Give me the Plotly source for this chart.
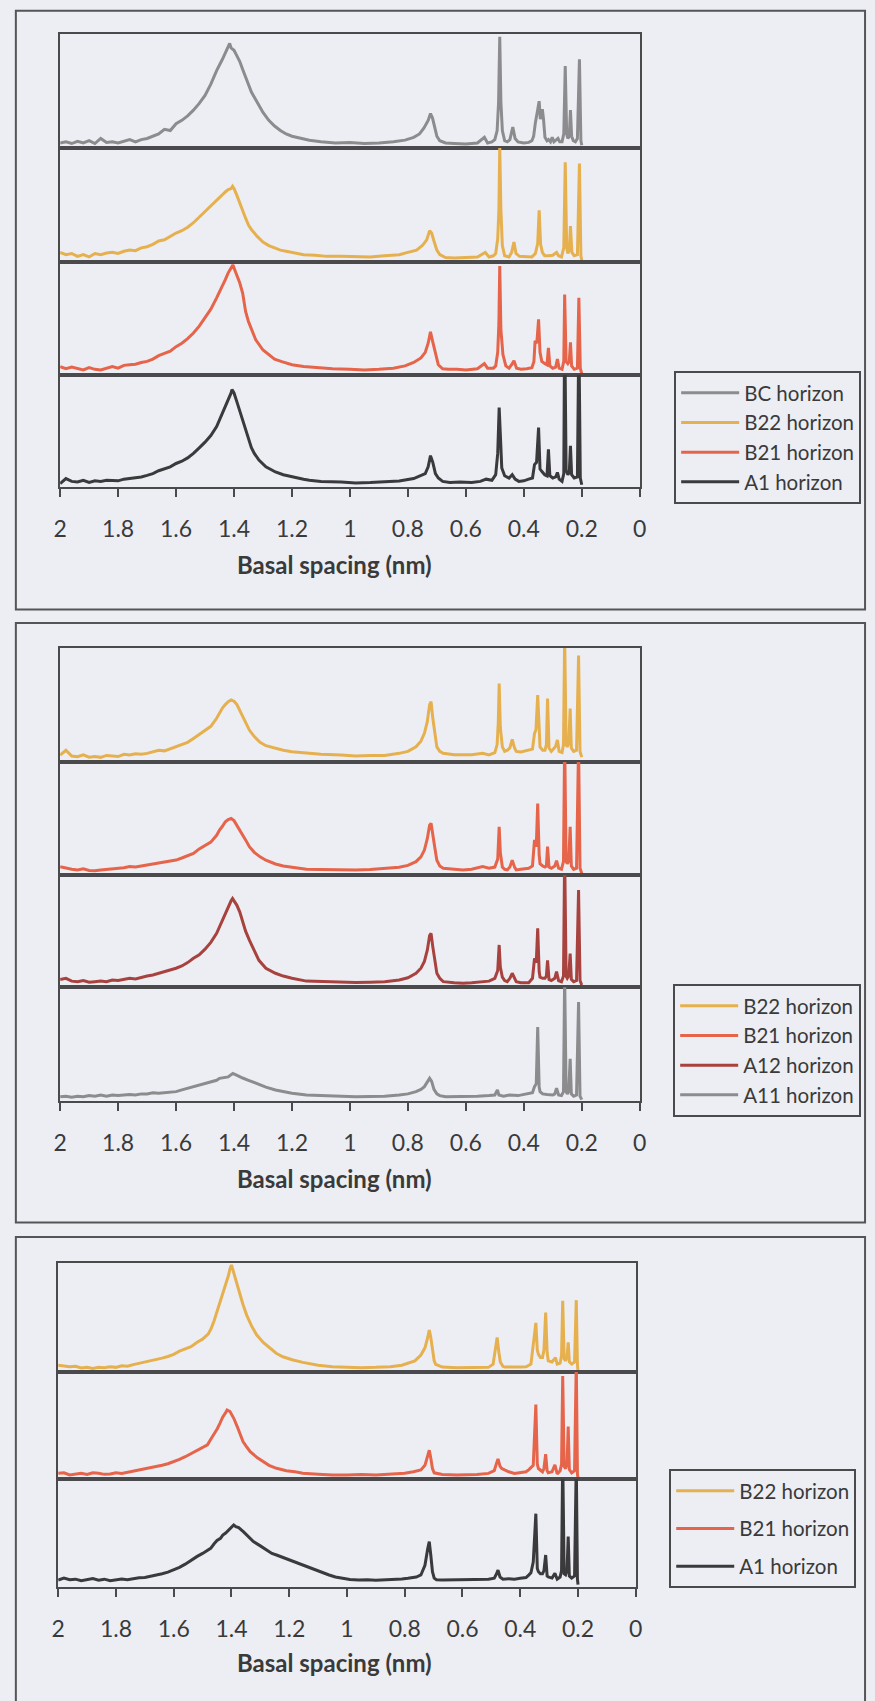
import plotly.graph_objects as go

W, H = 875, 1701

# ---------------- data: basal spacing (nm) and relative intensity (% of band) ----------------
# Panel 1
p1_bc_d = [2.00,1.98,1.96,1.94,1.92,1.90,1.88,1.86,1.84,1.82,1.80,1.78,1.76,1.74,1.72,1.70,1.68,1.66,1.64,1.62,1.60,1.58,1.56,1.54,1.52,1.50,1.48,1.46,1.44,1.43,1.42,1.415,1.41,1.40,1.39,1.38,1.37,1.36,1.35,1.34,1.32,1.30,1.28,1.26,1.24,1.22,1.20,1.17,1.14,1.10,1.05,1.00,0.95,0.90,0.85,0.81,0.78,0.76,0.745,0.73,0.722,0.715,0.708,0.70,0.69,0.67,
           0.64,0.60,0.56,0.536,0.525,0.51,0.50,0.492,0.487,0.483,0.479,0.474,0.466,0.457,0.448,0.438,0.43,0.42,0.40,0.383,0.372,0.366,0.36,0.356,0.351,0.347,0.343,0.34,0.336,0.332,0.327,0.32,0.315,0.308,0.302,0.296,0.29,0.282,0.276,0.268,0.262,0.257,0.252,0.248,0.243,0.239,0.235,0.229,0.222,0.215,0.208,0.203,0.20]
p1_bc_i = [4,5,3.5,5.5,4,6,3.5,8,4.5,5,4,5.5,7,5,7,8,10,12,16,15,21,24,28,33,39,46,56,68,78,84,89,92,88,86,81,76,69,62,55,49,40,31,24,19,15,12,10,8,6.5,5,4,4.5,3.5,4,5,6.5,9,12,17,24,30,26,18,10,6,4,
           3.5,3,4,9,4,5,7,15,40,98,40,15,6,5,7,18,8,5,4,4.5,6,10,22,30,35,41,25,30,34,25,9,6,7,5,9,5,6,8,5,5,12,72,12,8,10,33,10,6,5,8,78,6,2]

p1_b22_d = [2.00,1.98,1.96,1.94,1.92,1.90,1.88,1.86,1.84,1.82,1.80,1.78,1.76,1.74,1.72,1.70,1.68,1.66,1.64,1.62,1.60,1.58,1.56,1.54,1.52,1.50,1.48,1.46,1.44,1.43,1.42,1.41,1.405,1.40,1.39,1.38,1.37,1.36,1.35,1.34,1.32,1.30,1.28,1.26,1.24,1.22,1.20,1.16,1.12,1.08,1.03,0.98,0.93,0.88,0.83,0.80,0.77,0.75,0.735,0.725,0.718,0.71,0.70,0.69,0.67,
            0.64,0.60,0.56,0.533,0.52,0.505,0.497,0.49,0.486,0.483,0.479,0.474,0.466,0.451,0.442,0.434,0.427,0.415,0.39,0.372,0.36,0.352,0.347,0.342,0.336,0.328,0.315,0.30,0.287,0.28,0.27,0.262,0.257,0.252,0.248,0.243,0.239,0.234,0.226,0.215,0.208,0.203,0.20]
p1_b22_i = [8,6,7,4.5,6,4,7,6,7.5,8,7,9,10,9.5,12,13,15,18,19,22,25,27,30,34,39,44,49,54,59,61,63,64,66,64,58,51,44,38,32,28,22,17,14,12,10,9,8,6,5.5,4.5,4.5,4,4,5,6,8,10,14,19,27,25,18,10,6,3.5,
            3,3.5,4,8,4,5,7,20,45,100,45,14,5,4,8,17,7,4.5,4,4,7,16,45,15,8,5,5,5.5,8,5,4,12,87,12,7,10,31,8,5,6,86,5,1]

p1_b21_d = [2.00,1.98,1.96,1.94,1.92,1.90,1.88,1.86,1.84,1.82,1.80,1.78,1.76,1.74,1.72,1.70,1.68,1.66,1.64,1.62,1.60,1.58,1.56,1.54,1.52,1.50,1.48,1.46,1.44,1.43,1.42,1.41,1.404,1.395,1.38,1.37,1.36,1.35,1.34,1.325,1.30,1.28,1.26,1.235,1.20,1.16,1.12,1.06,1.00,0.95,0.90,0.85,0.81,0.78,0.755,0.74,0.73,0.722,0.715,0.705,0.695,0.68,0.66,
            0.63,0.60,0.56,0.536,0.525,0.505,0.497,0.49,0.486,0.483,0.479,0.472,0.462,0.451,0.442,0.434,0.425,0.41,0.39,0.372,0.365,0.361,0.355,0.349,0.344,0.338,0.327,0.32,0.315,0.31,0.30,0.29,0.284,0.278,0.268,0.262,0.259,0.254,0.248,0.243,0.239,0.235,0.226,0.215,0.21,0.205,0.20]
p1_b21_i = [7.4,5.5,7,6,4.5,6.5,5,4.5,6,7.4,6,8.5,9,9.5,11,12,14,17,19,21,25,28,32,37,43,50,58,68,78,84,90,94,97,91,81,72,56,47,40,31,22,17.6,14,11.8,9,7.5,6.5,5.5,5,4.5,5,6,8,11,15,20,28,38,30,18,9,5.5,5,
            5,4.5,5.5,10,6,6,8,20,45,96,40,18,8,6,9,12.6,6,5,5.5,6.5,12,30,28,49,20,12,10,9,24,8,6,7,14,6,5,12,71,12,10,12,28.7,8,5,6,68,6,1]

p1_a1_d = [2.00,1.98,1.96,1.94,1.92,1.90,1.88,1.86,1.84,1.82,1.80,1.78,1.76,1.74,1.72,1.70,1.68,1.66,1.64,1.62,1.60,1.58,1.56,1.54,1.52,1.50,1.48,1.46,1.45,1.44,1.43,1.42,1.41,1.407,1.40,1.39,1.38,1.37,1.36,1.35,1.34,1.33,1.314,1.29,1.27,1.257,1.23,1.20,1.16,1.14,1.10,1.03,0.98,0.93,0.88,0.83,0.78,0.755,0.74,0.73,0.722,0.714,0.705,0.695,0.68,0.655,
           0.62,0.58,0.55,0.53,0.51,0.497,0.49,0.485,0.481,0.476,0.466,0.451,0.44,0.43,0.417,0.40,0.383,0.37,0.363,0.356,0.349,0.344,0.338,0.328,0.32,0.315,0.31,0.30,0.29,0.284,0.278,0.268,0.262,0.259,0.254,0.248,0.243,0.239,0.235,0.226,0.215,0.21,0.205,0.20]
p1_a1_i = [3,7.5,5,4.5,6,4,5.5,5,6,6,5.5,7,7.5,8,9,10.4,12,14.5,16,18,21,23,26,30,35,40,46,54,60,66,71,78,84,87,84,76,68,60,50,42,35,30,24,18,15,13.4,11,9,7,6,5,4.5,3.6,4,4.5,5.4,7.5,10,12,18,28,22,12,8,5,4,
           4.5,4,5,7,6,11,30,71,40,17,10,8,11,7,5,5.5,7,8,20,22,53,16,14,11,10,33.7,10,8,9,13,7,5,12,150,15,11,13,36.7,11,8,9,140,8,2]

# Panel 2
p2_b22_d = [2.00,1.98,1.96,1.94,1.92,1.90,1.88,1.86,1.84,1.82,1.80,1.78,1.76,1.74,1.72,1.70,1.68,1.66,1.64,1.62,1.60,1.58,1.56,1.54,1.52,1.50,1.48,1.46,1.45,1.44,1.43,1.42,1.41,1.40,1.39,1.38,1.37,1.36,1.347,1.33,1.31,1.29,1.257,1.23,1.20,1.15,1.10,1.03,0.98,0.93,0.88,0.83,0.80,0.772,0.755,0.743,0.733,0.725,0.72,0.714,0.707,0.70,0.69,0.678,
            0.64,0.61,0.58,0.542,0.52,0.50,0.492,0.488,0.485,0.481,0.474,0.466,0.457,0.448,0.44,0.432,0.426,0.41,0.383,0.37,0.363,0.358,0.352,0.347,0.344,0.335,0.327,0.322,0.318,0.313,0.305,0.291,0.284,0.278,0.268,0.263,0.259,0.254,0.25,0.245,0.24,0.236,0.228,0.218,0.211,0.206,0.20]
p2_b22_i = [5.8,10,5,4.4,6,4,4.5,3.8,5.5,5,4.5,6.5,5.8,7,6.5,7.3,8.5,10,9.5,11.5,13.7,15,17,20.4,24,28,31,38,43,47,50,52.5,54,53,50,45,40,34,27.7,22,17,14,11.7,10,8.7,7.3,6.5,5.8,5,5.5,5.5,7.3,9,13,18,24.8,35,50,52.5,38,25,13,9,7.3,
            6,5.8,6,7.3,6,8,15,35,68.5,30,13,9,10,12,19.5,12,9,8.5,10,11,24.8,28,58.3,20,13,10,10,15,55.4,12,9,13,19,9,8,15,110,15,13,16,46.6,12,9,10,93,9,4]

p2_b21_d = [2.00,1.98,1.96,1.94,1.92,1.90,1.88,1.86,1.84,1.82,1.80,1.78,1.76,1.74,1.72,1.70,1.68,1.66,1.64,1.62,1.60,1.58,1.56,1.54,1.52,1.50,1.48,1.46,1.45,1.44,1.43,1.42,1.41,1.40,1.39,1.38,1.37,1.36,1.347,1.33,1.31,1.29,1.257,1.23,1.20,1.15,1.10,1.03,0.98,0.93,0.88,0.83,0.80,0.772,0.755,0.743,0.733,0.725,0.72,0.714,0.707,0.70,0.69,0.678,
            0.64,0.61,0.58,0.542,0.52,0.50,0.49,0.485,0.481,0.474,0.466,0.457,0.448,0.44,0.432,0.426,0.41,0.383,0.37,0.363,0.357,0.352,0.347,0.344,0.335,0.327,0.322,0.318,0.313,0.305,0.293,0.287,0.28,0.27,0.263,0.259,0.254,0.25,0.245,0.24,0.236,0.228,0.218,0.211,0.206,0.20]
p2_b21_i = [7.4,6,5,4.4,5.5,4,3.8,4.5,5,5,6,6.5,7.4,7,8,8.8,9.5,10.3,11,12,13.2,15,17,19,23,26,29,35,39.7,43,47,49,50,48,44,40,35,31,25,20,16,13,9.7,8,6.8,5,4.8,4.4,4.4,4.8,5.5,6.8,8.5,11.8,16,22,32,44,45.6,34,24,13,8,6,
            5,4.4,5,7.4,6,7,14,42.6,20,7,5,4.5,7,13,7,4.5,5,6,8,31,25,63,18,10,8,7,8,25,7,6,8,12.6,6,5,12,120,12,10,12,42.6,8,5,6,115,6,1.5]

p2_a12_d = [2.00,1.98,1.96,1.94,1.92,1.90,1.88,1.86,1.84,1.82,1.80,1.78,1.76,1.74,1.72,1.70,1.68,1.66,1.64,1.62,1.60,1.58,1.56,1.54,1.52,1.50,1.48,1.46,1.45,1.44,1.43,1.42,1.41,1.405,1.40,1.39,1.38,1.37,1.36,1.347,1.33,1.314,1.29,1.27,1.257,1.23,1.20,1.15,1.10,1.03,0.98,0.93,0.88,0.83,0.80,0.772,0.755,0.743,0.733,0.725,0.72,0.714,0.707,0.70,0.69,0.678,
            0.64,0.61,0.58,0.542,0.52,0.50,0.49,0.485,0.481,0.474,0.466,0.457,0.448,0.44,0.432,0.426,0.41,0.383,0.37,0.363,0.357,0.352,0.347,0.344,0.335,0.327,0.322,0.318,0.313,0.305,0.293,0.287,0.28,0.27,0.263,0.259,0.254,0.25,0.245,0.24,0.236,0.228,0.218,0.211,0.206,0.20]
p2_a12_i = [7,8,5.5,5,6,4.5,5,5.5,5,6.5,6,7,8,7.5,9,10,11,12.5,13.5,15,17,19,22,25.8,29,34,40,48,54,60,66,72,77,79,77,73,67,58,50,42,33,24,17,14,12.5,10,8,5.5,5,4.2,4.2,4.5,5,6.5,8.5,12.5,17,23,33,46,48,36,25,12.5,8,5,
            4,3.6,4,5,5.5,8,15,37.7,18,9,6,5,8,12.5,8,5,4,4,8,25.8,22,52.5,14,9,8,8,10,24,7,6,8,14,6,5,10,120,10,8,10,30,7,5,6,86.6,6,2]

p2_a11_d = [2.00,1.98,1.96,1.94,1.92,1.90,1.88,1.86,1.84,1.82,1.80,1.78,1.76,1.74,1.72,1.70,1.68,1.66,1.64,1.62,1.60,1.58,1.56,1.54,1.52,1.50,1.48,1.46,1.45,1.44,1.42,1.41,1.404,1.395,1.38,1.37,1.35,1.33,1.314,1.29,1.257,1.23,1.20,1.15,1.10,1.03,0.98,0.93,0.88,0.83,0.80,0.772,0.755,0.743,0.733,0.725,0.718,0.71,0.70,0.69,0.67,
            0.64,0.60,0.56,0.52,0.50,0.491,0.486,0.47,0.45,0.42,0.383,0.37,0.363,0.357,0.352,0.347,0.344,0.335,0.32,0.30,0.293,0.287,0.28,0.27,0.263,0.259,0.254,0.25,0.245,0.24,0.236,0.228,0.218,0.211,0.206,0.20]
p2_a11_i = [3.5,4,3,4,3.5,4.5,4,5,4,5,4.5,5,5.5,5,6,6,7,6.5,7,8,8,9.5,11,12.4,14,15,16.8,18,19.7,20,21,23,24,23,21,20,18,16,13.8,12,9.4,8,6.5,5,4.5,3.5,3.5,3.8,4,5,6,8,10,12.4,16,19.7,17,10,6,4.5,3.5,
            3.5,3.5,4,4.5,5,9.4,5,4,5,4.5,6,7,12.4,15,65,12,8,6,5.5,5,6,11,5,4.5,8,110,8,6,8,37,6,4,5,87,4,1]

# Panel 3
p3_b22_d = [2.00,1.98,1.96,1.94,1.92,1.90,1.88,1.86,1.84,1.82,1.80,1.78,1.76,1.74,1.72,1.70,1.68,1.66,1.64,1.62,1.60,1.58,1.56,1.54,1.52,1.50,1.48,1.47,1.46,1.45,1.44,1.43,1.42,1.41,1.405,1.40,1.395,1.387,1.38,1.37,1.36,1.347,1.33,1.313,1.29,1.267,1.245,1.222,1.19,1.153,1.10,1.05,1.00,0.95,0.90,0.85,0.81,0.789,0.765,0.744,0.73,0.72,0.715,0.71,0.704,0.698,0.693,0.67,
            0.62,0.55,0.51,0.494,0.487,0.48,0.474,0.469,0.46,0.454,0.40,0.38,0.37,0.363,0.355,0.346,0.341,0.337,0.33,0.323,0.318,0.312,0.307,0.303,0.29,0.278,0.272,0.262,0.257,0.253,0.248,0.243,0.238,0.234,0.23,0.222,0.212,0.206,0.202,0.20]
p3_b22_i = [6,5.5,4.6,5,3.5,4,3,4,3.7,4.5,4,5.5,5,6.5,7.7,8.5,9.5,10.8,12.5,14,16,19,21,23,27,30,35,40,47,55,63,72,81,89,95,98.5,94,86,79,71,62,52,42,34,27,21.5,17,13.8,11,8.6,6,4.6,4,3.7,4,4.6,6,7.7,10,15.4,22,32,38.5,32,19,10,6.8,4.3,
            3.7,3.7,4,7,18,31.5,18,9,5,4.3,4.3,4.5,6,7,25,45,20,16,13,13,20,54.6,18,10,9,13,7,8,15,65.4,12,10,14,27,9,7,9,66,6,0.5]

p3_b21_d = [2.00,1.98,1.96,1.94,1.92,1.90,1.88,1.86,1.84,1.82,1.80,1.78,1.76,1.74,1.72,1.70,1.68,1.66,1.64,1.62,1.60,1.58,1.56,1.54,1.52,1.50,1.483,1.47,1.46,1.449,1.44,1.43,1.42,1.415,1.405,1.392,1.38,1.37,1.36,1.347,1.335,1.31,1.29,1.27,1.244,1.21,1.18,1.153,1.10,1.05,1.00,0.95,0.90,0.85,0.80,0.77,0.744,0.73,0.72,0.715,0.71,0.704,0.698,0.693,0.67,
            0.62,0.55,0.51,0.49,0.482,0.477,0.47,0.464,0.454,0.44,0.42,0.40,0.38,0.37,0.355,0.346,0.341,0.337,0.33,0.323,0.318,0.312,0.307,0.303,0.29,0.28,0.272,0.262,0.257,0.253,0.248,0.243,0.238,0.234,0.23,0.222,0.212,0.206,0.202,0.20]
p3_b21_i = [5.6,6,4,5,5.6,4.5,6,5.6,4.6,5,6,5.5,6.5,8,8.7,9.5,10.5,11.8,13,14.5,16.4,18.5,21,24,27,30,32,38,42,47,52,58,62,64.4,63,56.7,49,41,35,30,25.7,20,16.4,13,10.2,8,7,5.6,4.8,4,4,4.5,4,5,5.6,7,8.7,13,22,27,20,10,6,5.6,4.5,
            4,4.5,5.5,8,15,19,12,10,8.7,7,5.5,6,7,9,13,69.5,14,10,8,7,10,23.4,8,6,7,13.4,5,8,14,96,12,10,14,49,9,6,8,110,5,1]

p3_a1_d = [2.00,1.98,1.96,1.94,1.92,1.90,1.88,1.86,1.84,1.82,1.80,1.78,1.76,1.74,1.72,1.70,1.68,1.66,1.64,1.62,1.60,1.58,1.56,1.54,1.52,1.50,1.48,1.472,1.46,1.45,1.438,1.43,1.42,1.41,1.40,1.392,1.385,1.375,1.358,1.34,1.324,1.30,1.278,1.26,1.244,1.22,1.20,1.18,1.153,1.13,1.108,1.085,1.062,1.04,1.017,0.99,0.96,0.93,0.90,0.87,0.84,0.81,0.789,0.76,0.744,0.73,0.72,0.715,0.71,0.704,0.698,0.69,0.67,
           0.62,0.56,0.51,0.49,0.482,0.477,0.47,0.46,0.44,0.42,0.40,0.38,0.37,0.363,0.355,0.346,0.341,0.337,0.33,0.323,0.318,0.312,0.307,0.303,0.29,0.28,0.272,0.262,0.257,0.253,0.248,0.243,0.238,0.234,0.23,0.222,0.212,0.206,0.202,0.20]
p3_a1_i = [6.2,8,6.5,7,5.5,6.2,7.5,6,7,5.5,6.5,7.1,6.5,7.5,8.4,8.5,9.5,10.9,12,13.5,15.5,18,21,24.8,28,31,34,35.7,40,43,45,48,50,52.8,55,57.5,56,55,51,46,42,38,34,31,29.5,27,24.8,22.5,20,17.5,15.5,13,10.9,9,7.8,6.8,6.2,6.5,6,6.2,6.5,7.2,7.8,9,10.9,20,36,42,30,14,8,6.5,6.2,
           6.2,6.8,7,8,12,15.5,9,7,7.5,7,7.8,8.5,11,13,23,68,17,14,12,12,15,29.5,10,9,8,12.4,7,9,15,120,12,11,15,46.6,10,8,10,115,7,2]

tick_vals = [2, 1.8, 1.6, 1.4, 1.2, 1, 0.8, 0.6, 0.4, 0.2, 0]
tick_text = ["2", "1.8", "1.6", "1.4", "1.2", "1", "0.8", "0.6", "0.4", "0.2", "0"]
axis_title = "Basal spacing (nm)"

# series per panel, top band to bottom band
panel_series = [
    [("BC horizon", p1_bc_d, p1_bc_i, "#8c8c8e"),
     ("B22 horizon", p1_b22_d, p1_b22_i, "#e6b04e"),
     ("B21 horizon", p1_b21_d, p1_b21_i, "#e6644a"),
     ("A1 horizon", p1_a1_d, p1_a1_i, "#3a3a3c")],
    [("B22 horizon", p2_b22_d, p2_b22_i, "#e6b04e"),
     ("B21 horizon", p2_b21_d, p2_b21_i, "#e6644a"),
     ("A12 horizon", p2_a12_d, p2_a12_i, "#a8423e"),
     ("A11 horizon", p2_a11_d, p2_a11_i, "#8c8c8e")],
    [("B22 horizon", p3_b22_d, p3_b22_i, "#e6b04e"),
     ("B21 horizon", p3_b21_d, p3_b21_i, "#e6644a"),
     ("A1 horizon", p3_a1_d, p3_a1_i, "#3a3a3c")],
]

# ---------------- layout geometry (pixels) ----------------
panels = [
    dict(left=54, right=643, bands=[34.4, 147.5, 261.5, 375, 487], leg=(678, 371), gap=0, title_y=564.5, box=(9, 10.7, 872, 609.5)),
    dict(left=54, right=643, bands=[647.5, 761.7, 875, 987.3, 1100.7], leg=(677, 984), gap=0, title_y=1178, box=(9, 623, 872, 1222.5)),
    dict(left=52, right=639, bands=[1263.3, 1371.7, 1479.3, 1586.7], leg=(673, 1469), gap=8, title_y=1662, box=(9, 1237, 872, 1715)),
]

BG = "#eceef3"
LINE = "#4a4a4c"
FONT = "Lato"
TXT = "#3a3a3a"

fig = go.Figure()
layout = dict(width=W, height=H, margin=dict(l=0, r=0, t=0, b=0),
              paper_bgcolor=BG, plot_bgcolor=BG, showlegend=True,
              font=dict(family=FONT, color=TXT), shapes=[], annotations=[])

k = 0
for pi, (pan, series) in enumerate(zip(panels, panel_series)):
    legname = "legend" if pi == 0 else f"legend{pi+1}"
    nb = len(series)
    for bi, (name, d, inten, col) in enumerate(series):
        k += 1
        top, bot = pan["bands"][bi], pan["bands"][bi + 1]
        xa = "xaxis" if k == 1 else f"xaxis{k}"
        ya = "yaxis" if k == 1 else f"yaxis{k}"
        last = bi == nb - 1
        layout[xa] = dict(domain=[pan["left"] / W, pan["right"] / W], anchor=f"y{k}" if k > 1 else "y",
                          range=[2, 0], showgrid=False, zeroline=False, showline=True, mirror=True,
                          linecolor=LINE, linewidth=1.6,
                          tickmode="array", tickvals=tick_vals, ticktext=tick_text,
                          ticks="outside" if last else "", ticklen=8, tickwidth=1.6, tickcolor=LINE,
                          showticklabels=last, tickfont=dict(family=FONT, size=23, color=TXT),
                          ticklabelstandoff=13, fixedrange=True)
        layout[ya] = dict(domain=[1 - bot / H, 1 - top / H], anchor=f"x{k}" if k > 1 else "x",
                          range=[0, 100], showgrid=False, zeroline=False, showline=True, mirror=True,
                          linecolor=LINE, linewidth=1.6, ticks="", showticklabels=False, fixedrange=True)
        fig.add_trace(go.Scatter(x=d, y=inten, mode="lines", name=name,
                                 line=dict(color=col, width=3),
                                 xaxis=f"x{k}" if k > 1 else "x", yaxis=f"y{k}" if k > 1 else "y",
                                 legend=legname, legendgroup=f"g{k}", hoverinfo="skip"))
    layout[legname] = dict(x=pan["leg"][0] / W, y=1 - pan["leg"][1] / H, xanchor="left", yanchor="top",
                           bgcolor=BG, bordercolor=LINE, borderwidth=2, traceorder="grouped",
                           tracegroupgap=pan["gap"], itemwidth=58,
                           font=dict(family=FONT, size=20.5, color=TXT))
    layout["annotations"].append(dict(text=f"<b>{axis_title}</b>", x=333 / W, y=1 - pan["title_y"] / H,
                                      xref="paper", yref="paper", showarrow=False, xanchor="center",
                                      yanchor="middle", font=dict(family=FONT, size=24, color=TXT)))
    bx = pan["box"]
    layout["shapes"].append(dict(type="rect", xref="paper", yref="paper", x0=bx[0] / W, x1=bx[2] / W,
                                 y0=1 - bx[3] / H, y1=1 - bx[1] / H, line=dict(color="#555557", width=2),
                                 fillcolor="rgba(0,0,0,0)", layer="below"))

fig.update_layout(**layout)
fig.write_html("out.html", config={"displayModeBar": False},
               post_script="document.body.style.margin='0';document.body.style.background='%s';" % BG)
